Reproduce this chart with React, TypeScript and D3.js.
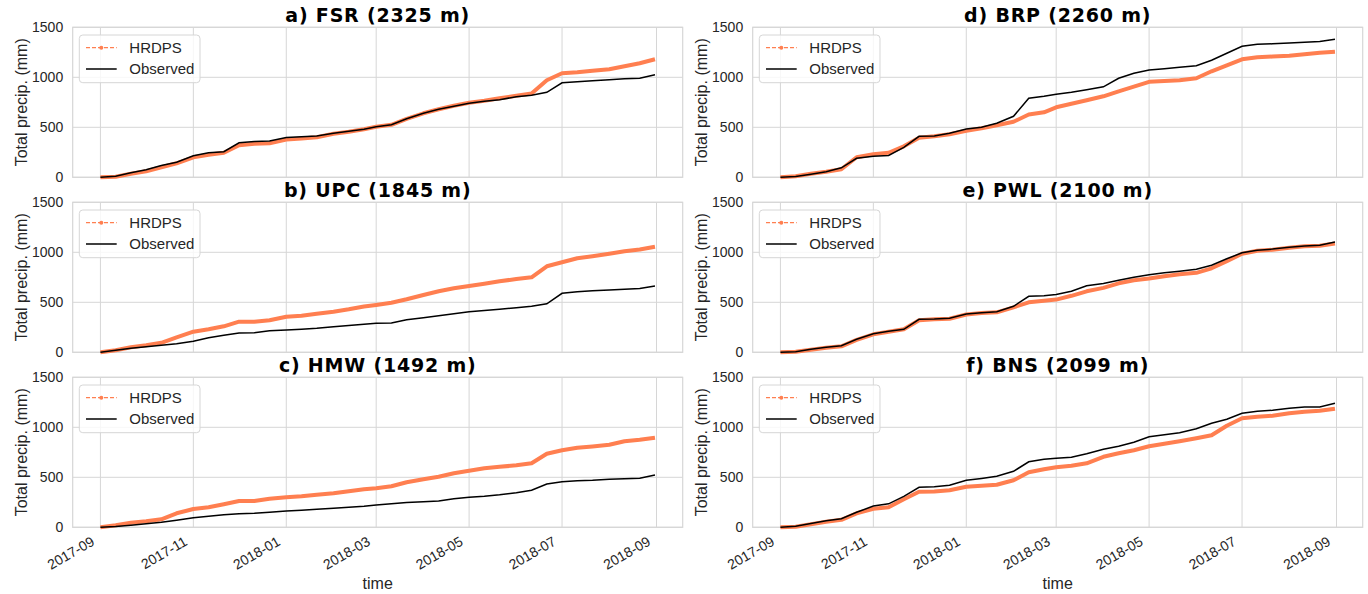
import * as d3 from "d3";

// sample dates (every ~10 days)
const dates = [
  "2017-09-01", "2017-09-11", "2017-09-21", "2017-10-01", "2017-10-11", "2017-10-21",
  "2017-11-01", "2017-11-11", "2017-11-21", "2017-12-01", "2017-12-11", "2017-12-21",
  "2018-01-01", "2018-01-11", "2018-01-21", "2018-02-01", "2018-02-11", "2018-02-21",
  "2018-03-01", "2018-03-11", "2018-03-21", "2018-04-01", "2018-04-11", "2018-04-21",
  "2018-05-01", "2018-05-11", "2018-05-21", "2018-06-01", "2018-06-11", "2018-06-21",
  "2018-07-01", "2018-07-11", "2018-07-21", "2018-08-01", "2018-08-11", "2018-08-21",
  "2018-08-31",
];

const xTickLabels = ["2017-09", "2017-11", "2018-01", "2018-03", "2018-05", "2018-07", "2018-09"];
const yTicks = [0, 500, 1000, 1500];
const titles = [
  "a) FSR (2325 m)", "b) UPC (1845 m)", "c) HMW (1492 m)",
  "d) BRP (2260 m)", "e) PWL (2100 m)", "f) BNS (2099 m)",
];
const seriesNames = ["HRDPS", "Observed"];

const fsrHrdps = [0, 5, 35, 60, 100, 140, 200, 225, 245, 320, 335, 340, 378, 388, 400, 435, 455, 480, 505, 525, 585, 640, 680, 715, 745, 765, 790, 815, 838, 970, 1040, 1050, 1065, 1080, 1110, 1140, 1180];
const fsrObs = [0, 10, 45, 75, 118, 150, 215, 245, 256, 345, 358, 362, 398, 405, 413, 440, 460, 480, 505, 525, 585, 640, 680, 710, 740, 760, 775, 806, 820, 850, 945, 955, 965, 975, 985, 990, 1026];
const upcHrdps = [0, 20, 50, 70, 95, 150, 206, 230, 260, 306, 306, 320, 356, 365, 385, 406, 430, 458, 473, 495, 530, 573, 610, 640, 663, 685, 710, 733, 750, 860, 900, 940, 960, 985, 1010, 1028, 1056];
const upcObs = [0, 20, 40, 55, 70, 85, 110, 145, 170, 192, 196, 215, 223, 230, 240, 256, 268, 280, 290, 292, 325, 345, 365, 385, 406, 418, 430, 445, 460, 485, 590, 605, 615, 623, 630, 638, 663];
const hmwHrdps = [0, 20, 45, 60, 80, 140, 183, 200, 230, 263, 263, 285, 300, 310, 325, 340, 360, 380, 390, 410, 450, 480, 505, 540, 565, 590, 605, 620, 640, 735, 770, 795, 808, 825, 860, 875, 896];
const hmwObs = [0, 8, 20, 35, 50, 70, 95, 110, 125, 135, 140, 150, 163, 170, 180, 190, 200, 210, 222, 235, 248, 255, 262, 285, 300, 310, 325, 346, 370, 433, 456, 465, 470, 480, 485, 490, 523];
const brpHrdps = [0, 10, 35, 55, 80, 200, 230, 245, 310, 395, 410, 430, 465, 490, 520, 555, 628, 650, 700, 735, 770, 810, 860, 906, 955, 962, 970, 990, 1060, 1120, 1180, 1200, 1208, 1215, 1230, 1245, 1256];
const brpObs = [0, 8, 30, 55, 95, 190, 210, 218, 300, 410, 413, 440, 483, 500, 540, 610, 790, 810, 830, 850, 875, 905, 990, 1040, 1073, 1085, 1100, 1115, 1170, 1240, 1310, 1330, 1335, 1342, 1350, 1358, 1380];
const pwlHrdps = [0, 5, 25, 45, 60, 125, 180, 205, 230, 320, 330, 335, 378, 392, 400, 450, 500, 515, 527, 565, 610, 644, 690, 720, 738, 760, 780, 795, 840, 910, 985, 1015, 1025, 1045, 1060, 1065, 1087];
const pwlObs = [0, 5, 30, 50, 65, 130, 185, 210, 230, 330, 332, 340, 383, 395, 405, 460, 560, 565, 577, 610, 665, 688, 720, 750, 775, 795, 810, 830, 870, 935, 995, 1020, 1032, 1050, 1064, 1070, 1104];
const bnsHrdps = [0, 5, 30, 55, 75, 140, 185, 200, 280, 355, 358, 370, 405, 415, 425, 470, 550, 580, 600, 615, 640, 705, 740, 770, 810, 835, 860, 890, 920, 1015, 1090, 1105, 1115, 1140, 1155, 1165, 1186];
const bnsObs = [0, 10, 38, 65, 85, 150, 212, 235, 310, 400, 405, 420, 470, 489, 510, 560, 655, 680, 690, 700, 735, 780, 810, 850, 905, 925, 945, 985, 1040, 1080, 1140, 1160, 1170, 1190, 1203, 1203, 1240];

const hrdpsSeries = [fsrHrdps, upcHrdps, hmwHrdps, brpHrdps, pwlHrdps, bnsHrdps];
const obsSeries = [fsrObs, upcObs, hmwObs, brpObs, pwlObs, bnsObs];

const ORANGE = "#ff7f50";
const GRID = "#d6d6d6";
const TEXT = "#262626";
const SANS = "'Liberation Sans', Arial, sans-serif";

const colLeft = [72.7, 752.7];
const rowTop = [27.3, 202.3, 377.3];
const plotW = 610;
const plotH = 150;

const parseDay = d3.timeParse("%Y-%m-%d");
const parseMonth = d3.timeParse("%Y-%m");
const days = dates.map((d) => parseDay(d) as Date);
const xTicks = xTickLabels.map((d) => parseMonth(d) as Date);

const [t0, t1] = d3.extent(days) as [Date, Date];
const pad = (t1.getTime() - t0.getTime()) * 0.05;
const xScale = d3
  .scaleTime()
  .domain([new Date(t0.getTime() - pad), new Date(t1.getTime() + pad)])
  .range([0, plotW]);
const yScale = d3.scaleLinear().domain([0, 1500]).range([plotH, 0]);

const line = d3
  .line<number>()
  .x((_, i) => xScale(days[i]))
  .y((v) => yScale(v));

function Panel({ idx }: { idx: number }) {
  const col = Math.floor(idx / 3);
  const row = idx % 3;
  const showX = row === 2;

  return (
    <g transform={`translate(${colLeft[col]}, ${rowTop[row]})`}>
      {/* grid */}
      {xTicks.map((t, i) => (
        <line key={`gx${i}`} x1={xScale(t)} x2={xScale(t)} y1={0} y2={plotH} stroke={GRID} strokeWidth={1} />
      ))}
      {yTicks.map((v) => (
        <line key={`gy${v}`} x1={0} x2={plotW} y1={yScale(v)} y2={yScale(v)} stroke={GRID} strokeWidth={1} />
      ))}
      <rect x={0} y={0} width={plotW} height={plotH} fill="none" stroke={GRID} strokeWidth={1.2} />

      {/* series */}
      <path d={line(hrdpsSeries[idx]) || ""} fill="none" stroke={ORANGE} strokeWidth={4} strokeLinejoin="round" />
      <path d={line(obsSeries[idx]) || ""} fill="none" stroke="#000" strokeWidth={1.5} />

      {/* y axis */}
      {yTicks.map((v) => (
        <text key={`ty${v}`} x={-9.5} y={yScale(v)} dy="0.36em" textAnchor="end" fontSize={14} fill={TEXT} fontFamily={SANS}>
          {v}
        </text>
      ))}
      <text
        transform={`translate(-51.5, ${plotH / 2}) rotate(-90)`}
        dy="0.36em"
        textAnchor="middle"
        fontSize={16}
        fill={TEXT}
        fontFamily={SANS}
      >
        Total precip. (mm)
      </text>

      {/* title */}
      <text
        x={plotW / 2}
        y={-5.3}
        textAnchor="middle"
        fontSize={19}
        letterSpacing={0.8}
        fontWeight="bold"
        fill="#000"
        fontFamily="'DejaVu Sans', Verdana, sans-serif"
      >
        {titles[idx]}
      </text>

      {/* legend */}
      <g transform="translate(6.6, 7.7)">
        <rect x={0} y={0} width={120.7} height={47.7} rx={3.5} fill="#fff" fillOpacity={0.8} stroke={GRID} strokeWidth={1} />
        <line x1={6.7} x2={37.4} y1={12.7} y2={12.7} stroke={ORANGE} strokeWidth={1.2} strokeDasharray="4,2" />
        <circle cx={22} cy={12.7} r={2} fill={ORANGE} />
        <text x={50} y={12.7} dy="0.36em" fontSize={15} fill={TEXT} fontFamily={SANS}>
          {seriesNames[0]}
        </text>
        <line x1={6.7} x2={37.4} y1={34} y2={34} stroke="#000" strokeWidth={1.5} />
        <text x={50} y={34} dy="0.36em" fontSize={15} fill={TEXT} fontFamily={SANS}>
          {seriesNames[1]}
        </text>
      </g>

      {/* x axis */}
      {showX &&
        xTicks.map((t, i) => (
          <text
            key={`tx${i}`}
            transform={`translate(${xScale(t) - 5}, ${plotH + 17}) rotate(-30)`}
            textAnchor="end"
            fontSize={14}
            fill={TEXT}
            fontFamily={SANS}
          >
            {xTickLabels[i]}
          </text>
        ))}
      {showX && (
        <text x={plotW / 2} y={plotH + 61.5} textAnchor="middle" fontSize={16} fill={TEXT} fontFamily={SANS}>
          time
        </text>
      )}
    </g>
  );
}

export default function App() {
  return (
    <svg
      width={1368}
      height={594}
      style={{ position: "absolute", left: 0, top: 0, background: "#fff" }}
    >
      {titles.map((_, i) => (
        <Panel key={i} idx={i} />
      ))}
    </svg>
  );
}
